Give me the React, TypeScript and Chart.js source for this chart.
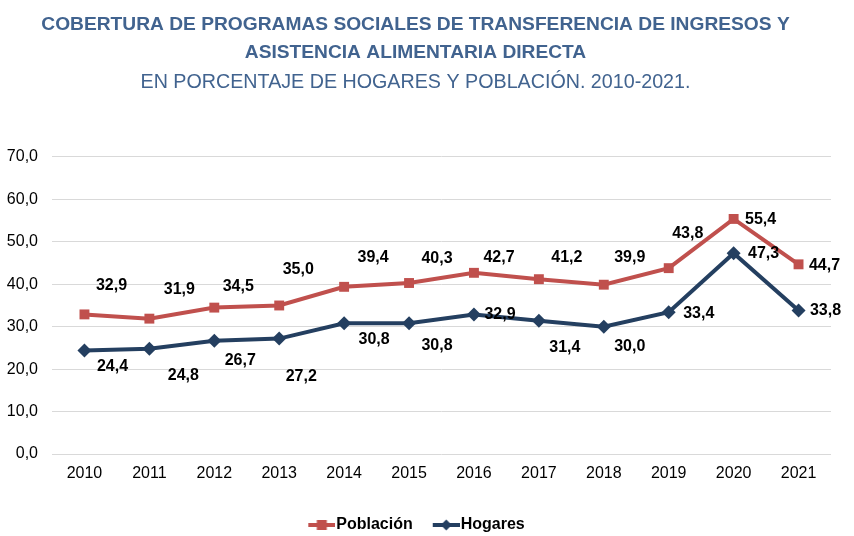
import React, { useEffect, useRef } from "react";
import { Chart, registerables } from "chart.js";

Chart.register(...registerables);

const years = ["2010","2011","2012","2013","2014","2015","2016","2017","2018","2019","2020","2021"];
const poblacion = [32.9, 31.9, 34.5, 35.0, 39.4, 40.3, 42.7, 41.2, 39.9, 43.8, 55.4, 44.7];
const hogares = [24.4, 24.8, 26.7, 27.2, 30.8, 30.8, 32.9, 31.4, 30.0, 33.4, 47.3, 33.8];
const yTicks = [0, 10, 20, 30, 40, 50, 60, 70];

const titleLines = [
  "COBERTURA DE PROGRAMAS SOCIALES DE TRANSFERENCIA DE INGRESOS Y",
  "ASISTENCIA ALIMENTARIA DIRECTA",
];
const subtitleText = "EN PORCENTAJE DE HOGARES Y POBLACIÓN. 2010-2021.";

// label offsets (styling, pixels relative to point)
const pobLabelDx = [27, 30, 24, 19, 29, 28, 25, 28, 26, 19, 27, 26];
const pobLabelDy = [-29, -29, -21, -36, -29, -24, -15, -22, -27, -35, 1, 1];
const hogLabelDx = [28, 34, 26, 22, 30, 28, 26, 26, 26, 30, 30, 27];
const hogLabelDy = [16, 27, 20, 38, 16, 22, 0, 27, 20, 1, 0, 0];

const RED = "#C0504D";
const NAVY = "#243F60";
const TITLE_COLOR = "#41638F";
const FONT = "'Liberation Sans', Arial, sans-serif";
const fmt = (v: number) => v.toFixed(1).replace(".", ",");

function legendIcon(color: string, shape: "square" | "diamond") {
  const c = document.createElement("canvas");
  c.width = 49;
  c.height = 14;
  const g = c.getContext("2d")!;
  g.strokeStyle = color;
  g.lineWidth = 4;
  g.beginPath();
  g.moveTo(22, 7);
  g.lineTo(49, 7);
  g.stroke();
  g.fillStyle = color;
  const cx = 35.5;
  if (shape === "square") {
    g.fillRect(cx - 5, 2, 10, 10);
  } else {
    g.beginPath();
    g.moveTo(cx, 1.5);
    g.lineTo(cx + 5.5, 7);
    g.lineTo(cx, 12.5);
    g.lineTo(cx - 5.5, 7);
    g.closePath();
    g.fill();
  }
  return c;
}

const labelPlugin = {
  id: "valueLabels",
  afterLayout(chart: any) {
    const lg = chart.legend;
    if (lg) {
      lg.left -= 13;
      lg.top += 3;
      lg.bottom += 3;
    }
  },
  afterDatasetsDraw(chart: any) {
    const ctx = chart.ctx;
    ctx.save();
    ctx.font = "bold 16px " + FONT;
    ctx.fillStyle = "#000";
    ctx.textAlign = "center";
    ctx.textBaseline = "middle";
    chart.data.datasets.forEach((ds: any, di: number) => {
      const meta = chart.getDatasetMeta(di);
      const dxs = di === 0 ? pobLabelDx : hogLabelDx;
      const dys = di === 0 ? pobLabelDy : hogLabelDy;
      meta.data.forEach((pt: any, i: number) => {
        ctx.fillText(fmt(ds.data[i]), pt.x + dxs[i], pt.y + dys[i]);
      });
    });
    ctx.restore();
  },
};

export default function App() {
  const ref = useRef<HTMLCanvasElement | null>(null);
  useEffect(() => {
    document.body.style.margin = "0";
    const icons = [legendIcon(RED, "square"), legendIcon(NAVY, "diamond")];
    const chart = new Chart(ref.current!, {
      type: "line",
      data: {
        labels: years,
        datasets: [
          {
            label: "Población",
            data: poblacion,
            borderColor: RED,
            backgroundColor: RED,
            borderWidth: 4,
            pointStyle: "rect",
            pointRadius: 7,
            pointBorderWidth: 0,
            tension: 0,
          },
          {
            label: "Hogares",
            data: hogares,
            borderColor: NAVY,
            backgroundColor: NAVY,
            borderWidth: 4,
            pointStyle: "rectRot",
            pointRadius: 7,
            pointBorderWidth: 0,
            tension: 0,
          },
        ],
      },
      options: {
        animation: false,
        responsive: false,
        layout: { padding: { left: 0, right: 23, top: 11, bottom: -4 } },
        plugins: {
          title: {
            display: true,
            text: titleLines,
            color: TITLE_COLOR,
            font: { family: "'Liberation Sans Narrow', 'Arial Narrow', " + FONT, size: 19.2, weight: "bold", lineHeight: 1.458 },
            padding: { top: 0, bottom: 0 },
          },
          subtitle: {
            display: true,
            text: subtitleText,
            color: TITLE_COLOR,
            font: { family: "'Liberation Sans Narrow', 'Arial Narrow', " + FONT, size: 19.7, weight: "normal", lineHeight: 1.421 },
            padding: { top: 2, bottom: 60 },
          },
          legend: {
            position: "bottom",
            labels: {
              usePointStyle: true,
              pointStyleWidth: 35,
              color: "#000",
              font: { family: FONT, size: 16, weight: "bold" },
              padding: 5,
              generateLabels: (ch: any) =>
                ch.data.datasets.map((ds: any, i: number) => ({
                  text: ds.label,
                  pointStyle: icons[i],
                  fillStyle: ds.borderColor,
                  strokeStyle: ds.borderColor,
                  lineWidth: 0,
                  hidden: false,
                  datasetIndex: i,
                  fontColor: "#000",
                })),
            },
          },
          tooltip: { enabled: false },
        },
        scales: {
          x: {
            offset: true,
            grid: { display: false, drawTicks: false },
            border: { display: false },
            ticks: {
              color: "#000",
              font: { family: FONT, size: 16 },
              padding: 10,
            },
            afterFit: (s: any) => { s.height = 55; },
          },
          y: {
            min: 0,
            max: 70,
            afterBuildTicks: (s: any) => { s.ticks = yTicks.map((v) => ({ value: v })); },
            grid: { color: "#D9D9D9", lineWidth: 1, drawTicks: false },
            border: { display: false },
            ticks: {
              color: "#000",
              font: { family: FONT, size: 16 },
              padding: 14,
              callback: (v: any) => fmt(Number(v)),
            },
            afterFit: (s: any) => { s.width = 52; },
          },
        },
      },
      plugins: [labelPlugin],
    });
    return () => chart.destroy();
  }, []);
  return (
    <div style={{ width: 854, height: 536, background: "#fff" }}>
      <canvas ref={ref} width={854} height={536} />
    </div>
  );
}
